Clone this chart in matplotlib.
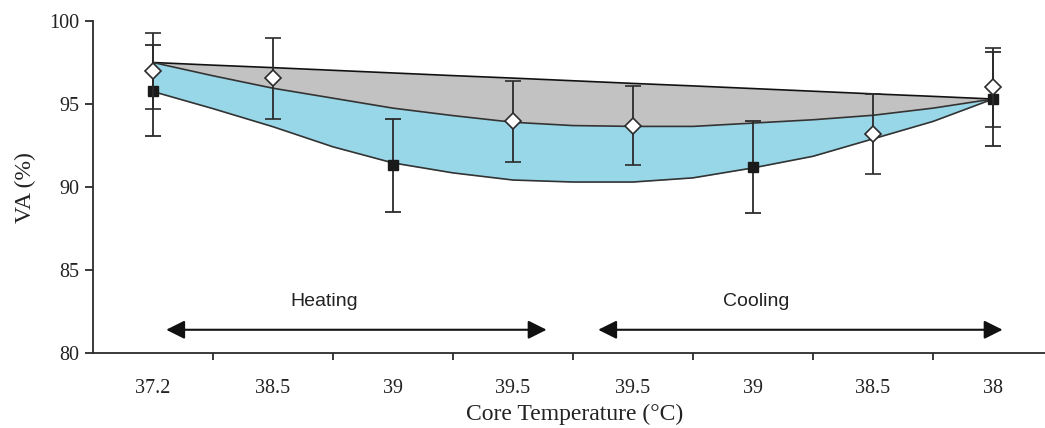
import numpy as np
from matplotlib import pyplot as plt

# categories (x axis labels)
temps = ['37.2', '38.5', '39', '39.5', '39.5', '39', '38.5', '38']

# diamond series (open markers)
dia_idx = [0, 1, 3, 4, 6, 7]
dia_val = [97.0, 96.55, 93.95, 93.7, 93.2, 96.0]
dia_err = [2.3, 2.45, 2.45, 2.4, 2.4, 2.4]

# square series (filled markers)
sq_idx = [0, 2, 5, 7]
sq_val = [95.8, 91.3, 91.2, 95.3]
sq_err = [2.75, 2.8, 2.75, 2.85]

# shaded band boundaries read at half-category steps
band_x = [0, 0.5, 1, 1.5, 2, 2.5, 3, 3.5, 4, 4.5, 5, 5.5, 6, 6.5, 7]
top_line = [97.5, 97.34, 97.19, 97.03, 96.87, 96.71, 96.56, 96.4,
            96.24, 96.09, 95.93, 95.77, 95.61, 95.46, 95.3]
mid_line = [97.5, 96.7, 95.95, 95.35, 94.75, 94.3, 93.9, 93.7,
            93.65, 93.65, 93.85, 94.05, 94.32, 94.75, 95.3]
low_line = [95.75, 94.72, 93.63, 92.42, 91.45, 90.85, 90.42, 90.3,
            90.3, 90.55, 91.15, 91.85, 92.9, 93.95, 95.3]

dark = '#2b2b2b'

fig = plt.figure(figsize=(10.45, 4.28), dpi=100)
ax = fig.add_axes([93 / 1045, 75 / 428, 960 / 1045, 332 / 428])

ax.fill_between(band_x, mid_line, top_line, color='#c2c2c2', lw=0)
ax.fill_between(band_x, low_line, mid_line, color='#98d7e8', lw=0)
ax.plot(band_x, top_line, color='#111111', lw=1.2)
ax.plot(band_x, mid_line, color='#333333', lw=1.2)
ax.plot(band_x, low_line, color='#333333', lw=1.2)

ax.errorbar(sq_idx, sq_val, yerr=sq_err, fmt='s', ms=7, mfc='#1a1a1a', mec='#1a1a1a',
            ecolor=dark, elinewidth=1.3, capsize=5.5, capthick=1.3, zorder=4)
ax.errorbar(dia_idx, dia_val, yerr=dia_err, fmt='D', ms=8.5, mfc='white', mec=dark, mew=1.2,
            ecolor=dark, elinewidth=1.3, capsize=5.5, capthick=1.3, zorder=5)

# heating / cooling arrows
ax.annotate('', xy=(0.11, 81.4), xytext=(3.28, 81.4),
            arrowprops=dict(arrowstyle='<|-|>', color='#111111', lw=1.5,
                            mutation_scale=28, shrinkA=0, shrinkB=0))
ax.annotate('', xy=(3.71, 81.4), xytext=(7.08, 81.4),
            arrowprops=dict(arrowstyle='<|-|>', color='#111111', lw=1.5,
                            mutation_scale=28, shrinkA=0, shrinkB=0))
ax.text(1.43, 83.1, 'Heating', family='Liberation Sans', fontsize=14, color='#222222',
        ha='center', va='center')
ax.text(5.03, 83.1, 'Cooling', family='Liberation Sans', fontsize=14, color='#222222',
        ha='center', va='center')

ax.set_xlim(-0.5, 7.5)
ax.set_ylim(80, 100)
ax.set_yticks([80, 85, 90, 95, 100])
ax.set_xticks(range(len(temps)))
ax.set_xticklabels(temps)
ax.set_xticks(np.arange(0.5, 7, 1), minor=True)
ax.tick_params(axis='x', which='major', length=0, pad=19)
ax.tick_params(axis='x', which='minor', length=5, width=1.3, color=dark)
ax.tick_params(axis='y', length=6, width=1.3, color=dark, pad=4)
for lab in ax.get_xticklabels() + ax.get_yticklabels():
    lab.set_family('Liberation Serif')
    lab.set_fontsize(14.5)
    lab.set_color('#222222')

for s in ['top', 'right']:
    ax.spines[s].set_visible(False)
for s in ['left', 'bottom']:
    ax.spines[s].set_color(dark)
    ax.spines[s].set_linewidth(1.3)

fig.text(575 / 1045, 1 - 414 / 428, 'Core Temperature (°C)', family='Liberation Serif',
         fontsize=17, color='#222222', ha='center', va='center')
fig.text(25 / 1045, 1 - 188 / 428, 'VA (%)', family='Liberation Serif', fontsize=17,
         color='#222222', ha='center', va='center', rotation=90)

fig.savefig('out.png', dpi=100)
